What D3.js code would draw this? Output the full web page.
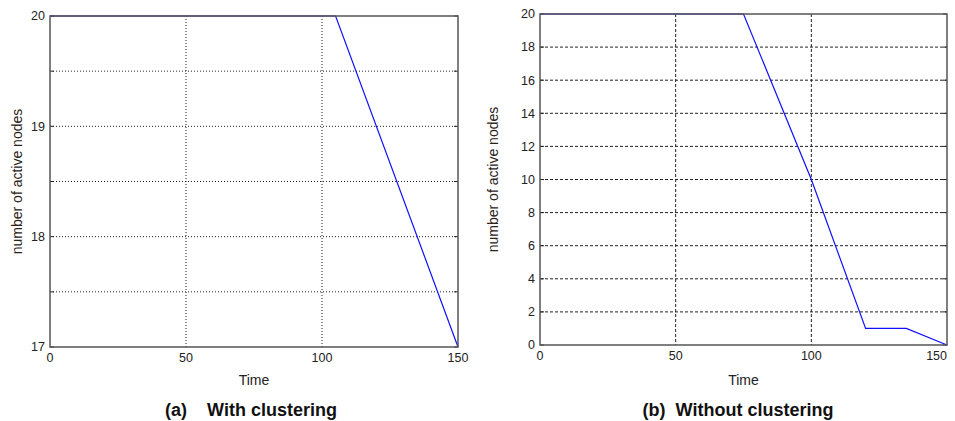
<!DOCTYPE html>
<html>
<head>
<meta charset="utf-8">
<script src="https://cdn.jsdelivr.net/npm/d3@7"></script>
<style>
body { margin: 0; background: #fff; }
text { font-family: "Liberation Sans", Arial, sans-serif; }
</style>
</head>
<body>
<script>
// panel (a): with clustering
var timeA = [0, 105, 150];
var nodesA = [20, 20, 17];
var yTicksA = [17, 17.5, 18, 18.5, 19, 19.5, 20];
var yLabelsA = [17, 18, 19, 20];

// panel (b): without clustering
var timeB = [0, 75, 100, 120, 135, 150];
var nodesB = [20, 20, 10, 1, 1, 0];
var yTicksB = [0, 2, 4, 6, 8, 10, 12, 14, 16, 18, 20];

var xTicks = [0, 50, 100, 150];
var captions = ["(a)    With clustering", "(b)  Without clustering"];

var svg = d3.select("body").append("svg")
    .attr("width", 955)
    .attr("height", 421);

function drawPanel(cfg) {
    var x = d3.scaleLinear().domain([0, 150]).range([cfg.left, cfg.right]);
    var y = d3.scaleLinear().domain(cfg.yDomain).range([cfg.bottom, cfg.top]);
    var g = svg.append("g");

    // grid
    g.append("g").selectAll("line.h")
        .data(cfg.yTicks.filter(d => d != cfg.yDomain[0] && d != cfg.yDomain[1]))
        .enter().append("line")
        .attr("x1", cfg.left).attr("x2", cfg.right)
        .attr("y1", d => y(d)).attr("y2", d => y(d))
        .attr("stroke", "#222").attr("stroke-width", 1)
        .attr("stroke-dasharray", cfg.dash);
    g.append("g").selectAll("line.v")
        .data(xTicks.filter(d => d != 0 && d != 150))
        .enter().append("line")
        .attr("y1", cfg.top).attr("y2", cfg.bottom)
        .attr("x1", d => x(d)).attr("x2", d => x(d))
        .attr("stroke", "#222").attr("stroke-width", 1)
        .attr("stroke-dasharray", cfg.dash);

    // inward ticks
    g.append("g").selectAll("line")
        .data(cfg.yTicks).enter().append("line")
        .attr("x1", cfg.right - 4).attr("x2", cfg.right)
        .attr("y1", d => y(d)).attr("y2", d => y(d))
        .attr("stroke", "#222");
    g.append("g").selectAll("line")
        .data(cfg.yTicks).enter().append("line")
        .attr("x1", cfg.left).attr("x2", cfg.left + 4)
        .attr("y1", d => y(d)).attr("y2", d => y(d))
        .attr("stroke", "#222");

    // line
    var pts = cfg.xs.map((d, i) => [d, cfg.ys[i]]);
    g.append("path")
        .datum(pts)
        .attr("fill", "none")
        .attr("stroke", "#1010ff")
        .attr("stroke-width", 1.2)
        .attr("d", d3.line().x(d => x(d[0])).y(d => y(d[1])));

    // frame
    g.append("rect")
        .attr("x", cfg.left).attr("y", cfg.top)
        .attr("width", cfg.right - cfg.left).attr("height", cfg.bottom - cfg.top)
        .attr("fill", "none").attr("stroke", "#555").attr("stroke-width", 1.5);

    // tick labels
    g.append("g").selectAll("text")
        .data(cfg.yLabels).enter().append("text")
        .attr("x", cfg.left - 5).attr("y", d => y(d))
        .attr("dy", "0.35em")
        .attr("text-anchor", "end")
        .attr("font-size", 12.5).attr("fill", "#222")
        .text(d => d);
    g.append("g").selectAll("text")
        .data(xTicks).enter().append("text")
        .attr("x", d => Math.min(x(d), 954))
        .attr("y", cfg.bottom + 15)
        .attr("text-anchor", d => x(d) + 10 > 955 ? "end" : "middle")
        .attr("font-size", 12.5).attr("fill", "#222")
        .text(d => d);

    // axis labels
    g.append("text")
        .attr("transform", "translate(" + cfg.ylabX + "," + ((cfg.top + cfg.bottom) / 2) + ") rotate(-90)")
        .attr("text-anchor", "middle")
        .attr("font-size", 14).attr("fill", "#2a2218")
        .text("number of active nodes");
    g.append("text")
        .attr("x", (cfg.left + cfg.right) / 2).attr("y", 385)
        .attr("text-anchor", "middle")
        .attr("font-size", 14).attr("fill", "#222")
        .text("Time");

    g.append("text")
        .attr("x", cfg.capX).attr("y", 416)
        .attr("text-anchor", "middle")
        .attr("font-size", 18).attr("font-weight", "bold").attr("fill", "#111")
        .attr("xml:space", "preserve")
        .style("white-space", "pre")
        .text(cfg.caption);
}

drawPanel({
    left: 50, right: 458, top: 16, bottom: 347,
    yDomain: [17, 20], yTicks: yTicksA, yLabels: yLabelsA,
    xs: timeA, ys: nodesA, dash: "1,2",
    ylabX: 22, capX: 251, caption: captions[0]
});

drawPanel({
    left: 540, right: 947, top: 14, bottom: 345,
    yDomain: [0, 20], yTicks: yTicksB, yLabels: yTicksB,
    xs: timeB, ys: nodesB, dash: "3,2",
    ylabX: 498, capX: 738, caption: captions[1]
});
</script>
</body>
</html>
